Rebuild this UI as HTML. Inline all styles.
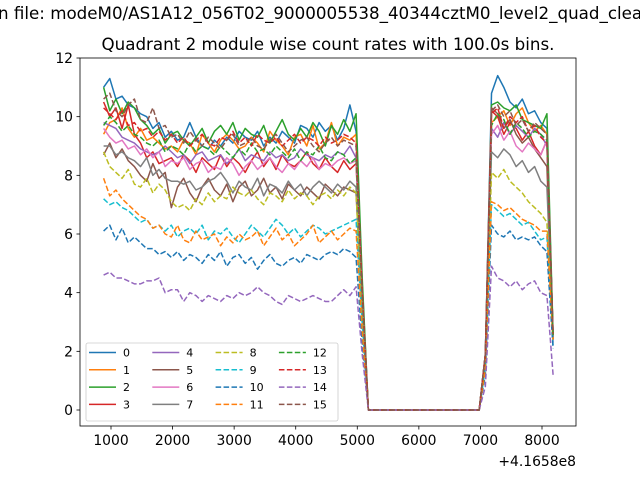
<!DOCTYPE html>
<html><head><meta charset="utf-8"><style>
body{margin:0;background:#fff;}
svg{display:block;font-family:"DejaVu Sans","Liberation Sans",sans-serif;}
</style></head><body>
<svg id="chart" width="640" height="480" viewBox="0 0 640 480">
<text x="-2" y="19" font-size="16.7">n file: modeM0/AS1A12_056T02_9000005538_40344cztM0_level2_quad_clean.evt</text>
<text x="328" y="50" font-size="16.7" text-anchor="middle">Quadrant 2 module wise count rates with 100.0s bins.</text>
<g id="plot"></g>
<text x="576" y="466" font-size="13.9" text-anchor="end">+4.1658e8</text>
</svg>
<script>
const xTicks=[1000,2000,3000,4000,5000,6000,7000,8000];
const yTicks=[0,2,4,6,8,10,12];
const times=[];for(let i=0;i<74;i++)times.push(880+100*i);
const gapZeros=[0,0,0,0,0,0,0,0,0,0,0,0,0,0,0,0,0,0,0];
const pre0=[11.0,11.3,10.6,10.7,10.4,10.3,10.1,10.0,9.6,9.8,9.3,9.5,9.2,9.3,9.8,9.3,9.0,8.9,9.2,9.0,9.3,9.1,9.5,9.3,9.2,9.5,9.0,9.3,9.1,9.5,9.3,9.1,9.7,9.6,9.3,9.8,9.5,9.7,9.2,9.6,10.4,9.5];
const pre1=[9.4,9.8,9.9,10.3,9.6,9.3,9.6,9.2,9.3,9.1,8.9,9.0,8.8,9.2,9.1,8.7,9.4,9.1,8.8,9.2,9.4,9.2,8.9,9.0,9.3,9.1,8.8,9.5,9.2,9.0,8.7,9.3,9.4,9.0,9.7,8.9,9.1,9.8,9.0,9.3,9.2,9.4];
const pre2=[11.0,10.2,10.6,10.1,10.5,10.3,9.9,9.7,9.4,9.6,9.1,9.4,9.5,9.2,9.0,9.3,9.6,9.1,9.5,9.7,9.4,9.8,9.2,9.6,9.4,9.3,9.7,9.1,9.5,9.9,9.4,9.2,9.6,9.3,9.8,9.5,9.0,9.7,9.4,9.9,9.5,10.1];
const pre3=[10.5,10.0,10.3,9.6,10.4,9.4,9.1,8.6,8.8,8.4,8.5,8.6,8.3,8.7,8.5,8.1,8.6,8.4,8.2,8.7,8.3,8.6,8.4,8.1,8.5,8.8,8.3,8.6,8.2,8.7,8.4,8.3,8.5,8.8,8.4,8.2,8.6,8.3,8.1,8.5,8.2,8.4];
const pre4=[9.8,9.7,9.6,9.3,9.2,9.1,8.9,8.8,8.7,8.8,9.0,8.8,8.6,8.7,8.4,8.7,8.8,8.5,8.6,8.7,8.4,8.6,8.9,8.5,8.7,8.6,8.5,8.8,8.6,8.7,8.5,8.6,8.9,8.7,8.6,8.5,8.7,8.6,8.8,8.7,9.0,8.6];
const pre5=[8.7,9.1,8.6,8.9,8.5,8.3,8.0,7.8,8.4,7.9,8.1,6.9,7.6,7.9,7.4,7.1,7.6,7.9,7.5,7.3,7.7,7.1,7.6,7.8,7.3,7.5,7.9,7.4,7.6,7.2,7.7,7.5,7.3,7.6,7.4,7.2,7.7,7.5,7.3,7.6,7.5,7.4];
const pre6=[9.6,9.3,9.1,9.2,8.9,9.0,8.7,8.9,8.6,8.8,8.3,8.5,8.4,8.6,8.2,8.4,8.5,8.1,8.3,8.2,8.6,8.4,8.0,8.3,8.5,8.2,8.4,8.6,8.3,8.1,8.4,8.2,8.5,8.3,8.6,8.2,8.4,8.3,8.5,8.6,8.4,8.5];
const pre7=[9.0,9.0,8.7,8.8,8.6,8.5,8.3,8.6,8.0,8.2,7.9,7.8,7.8,7.7,7.8,7.5,7.6,7.8,7.9,8.1,7.8,7.4,7.8,7.6,7.5,7.9,7.3,7.7,7.6,7.4,7.8,7.5,7.7,7.3,7.6,7.8,7.6,7.4,7.7,7.5,7.8,7.6];
const pre8=[8.8,8.3,8.1,7.9,8.2,7.7,7.6,7.9,7.4,7.7,7.5,7.1,6.9,7.0,6.8,7.2,7.0,7.4,7.1,7.3,7.2,7.6,7.4,7.3,7.5,7.2,7.0,7.4,7.3,7.1,7.5,7.2,7.4,7.3,7.0,7.3,7.4,7.2,7.5,7.3,7.6,7.4];
const pre9=[7.2,7.0,7.1,6.9,6.8,6.6,6.4,6.5,6.2,6.3,6.1,6.3,5.9,6.1,6.2,6.0,6.3,5.8,6.1,6.0,6.2,5.9,5.7,6.0,6.3,6.1,5.9,6.2,6.5,6.3,6.0,6.2,5.9,6.1,6.3,6.2,6.0,6.1,6.2,6.3,6.4,6.5];
const pre10=[6.1,6.3,5.8,6.2,5.7,5.9,5.7,5.5,5.5,5.3,5.4,5.2,5.4,5.1,5.3,5.2,5.0,5.3,5.1,5.4,4.9,5.2,5.3,5.0,5.2,4.8,5.1,5.3,5.0,4.9,5.1,5.2,5.0,5.3,5.2,5.1,5.3,5.4,5.3,5.5,5.4,5.2];
const pre11=[7.9,7.3,7.5,7.2,7.0,6.8,6.6,6.5,6.2,6.3,6.0,5.9,6.3,5.8,5.7,6.1,5.8,5.9,6.0,5.6,5.9,5.7,6.0,5.8,5.9,6.1,5.6,5.9,6.2,5.8,6.0,5.6,5.8,6.0,6.3,5.7,5.9,6.1,5.8,6.0,6.2,6.1];
const pre12=[9.7,10.0,9.8,9.5,9.7,9.4,9.3,9.1,9.0,9.2,8.8,9.0,8.9,8.7,9.1,8.8,9.0,8.9,8.7,9.0,8.8,8.6,8.9,8.7,9.1,8.8,8.9,8.7,9.0,8.8,8.6,8.9,8.5,8.8,8.7,9.0,8.6,8.5,8.8,8.7,8.4,8.6];
const pre13=[10.3,10.1,9.9,10.2,9.7,9.8,9.5,9.6,9.3,9.5,9.2,9.4,9.1,9.3,9.0,9.2,9.4,9.1,9.0,9.3,9.2,9.5,9.1,9.3,9.0,9.4,9.2,9.1,9.3,9.0,9.2,9.4,9.1,9.3,9.2,9.0,9.3,9.1,9.2,9.4,9.3,9.1];
const pre14=[4.6,4.7,4.5,4.5,4.4,4.3,4.3,4.4,4.4,4.5,4.0,4.1,4.1,3.7,4.0,3.9,3.7,3.9,3.8,3.7,3.9,3.8,4.0,3.9,4.0,4.2,4.0,3.9,3.7,3.6,3.9,3.8,3.7,3.8,3.9,3.8,3.7,3.7,3.9,4.1,3.9,4.2];
const pre15=[10.6,10.8,10.2,10.0,10.4,10.6,9.9,9.8,10.3,9.6,9.7,9.3,9.4,9.1,9.5,9.2,9.0,9.3,9.1,8.9,9.2,9.4,9.0,9.1,9.3,9.0,8.9,9.2,9.4,9.1,8.8,9.0,9.2,9.3,9.0,8.8,9.1,9.3,9.0,9.2,9.1,9.0];
const dropVals=[4.3,4.2,4.5,3.8,3.9,3.3,3.8,3.4,3.3,2.9,2.3,2.7,3.9,4.1,1.9,4.0];
const riseVals=[1.9,1.7,1.9,1.8,1.7,1.9,1.7,1.6,1.5,1.4,1.2,1.4,1.8,1.9,0.8,1.9];
const hi0=[10.8,11.4,11.0,10.5,10.3,10.6,10.1,10.2,9.8,9.6];
const hi1=[9.8,10.0,10.2,9.7,10.1,10.3,9.8,9.5,9.7,9.4];
const hi2=[10.4,10.5,10.3,10.2,10.4,9.9,9.8,9.7,9.6,10.1];
const hi3=[10.2,10.0,9.4,9.8,9.6,9.2,9.5,9.0,8.7,9.2];
const hi4=[9.6,9.3,9.8,9.4,9.7,9.5,9.3,9.6,9.4,9.0];
const hi5=[10.3,10.1,9.6,9.9,9.4,9.1,9.3,8.9,8.6,8.3];
const hi6=[9.4,9.7,9.2,9.5,9.0,8.8,9.1,8.9,8.7,9.2];
const hi7=[8.8,8.6,8.9,8.7,8.3,8.5,8.1,8.3,7.8,7.6];
const hi8=[8.1,7.9,8.2,7.8,7.6,7.4,7.1,6.9,6.7,6.4];
const hi9=[7.0,6.8,6.6,6.7,6.5,6.3,6.4,6.1,5.8,5.9];
const hi10=[6.3,6.0,5.9,6.1,5.8,5.9,5.8,5.9,5.6,5.4];
const hi11=[7.1,7.0,6.8,6.9,6.7,6.5,6.4,6.3,6.1,6.1];
const hi12=[9.7,10.1,9.9,9.4,9.8,9.6,9.3,9.5,9.4,9.2];
const hi13=[10.1,10.3,9.6,10.0,9.8,10.0,9.5,9.7,9.3,9.1];
const hi14=[4.9,4.5,4.4,4.2,4.4,4.1,4.3,4.4,4.0,3.9];
const hi15=[10.2,10.4,10.0,10.2,9.7,9.9,9.5,9.8,9.6,9.4];
const endVals=[2.5,2.4,2.6,2.5,2.4,2.5,2.3,2.4,2.3,2.2,2.1,2.4,2.5,2.6,1.2,2.6];
const labels=["0","1","2","3","4","5","6","7","8","9","10","11","12","13","14","15"];
const pres=[pre0,pre1,pre2,pre3,pre4,pre5,pre6,pre7,pre8,pre9,pre10,pre11,pre12,pre13,pre14,pre15];
const his=[hi0,hi1,hi2,hi3,hi4,hi5,hi6,hi7,hi8,hi9,hi10,hi11,hi12,hi13,hi14,hi15];
const colors=["#1f77b4","#ff7f0e","#2ca02c","#d62728","#9467bd","#8c564b","#e377c2","#7f7f7f","#bcbd22","#17becf"];

const NS="http://www.w3.org/2000/svg";
const L=80,R=576,T=58,B=426;
const xs=v=>111+(v-1000)*0.061571;
const ys=v=>410-v*29.333;
const g=document.getElementById('plot');
function mk(t,a,p){const e=document.createElementNS(NS,t);for(const k in a)e.setAttribute(k,a[k]);(p||g).appendChild(e);return e;}

for(let i=0;i<16;i++){
  const vals=pres[i].concat([dropVals[i]],gapZeros,[riseVals[i]],his[i],[endVals[i]]);
  const d=vals.map((v,j)=>(j?'L':'M')+xs(times[j]).toFixed(2)+' '+ys(v).toFixed(2)).join('');
  const p=mk('path',{d:d,fill:'none',stroke:colors[i%10],'stroke-width':1.5,'stroke-linejoin':'round'});
  if(i>=8)p.setAttribute('stroke-dasharray','5.55 2.4');
  
  
}
const frame=mk('rect',{x:L,y:T,width:R-L,height:B-T,fill:'none',stroke:'#000','stroke-width':0.8});


xTicks.forEach(v=>{
  const x=xs(v);
  const tl=mk('line',{x1:x,x2:x,y1:B,y2:B+3.5,stroke:'#000','stroke-width':0.8});
  
  
  const t=mk('text',{x:x,y:B+19,'font-size':13.9,'text-anchor':'middle'});
  t.textContent=v;
  
  
});
yTicks.forEach(v=>{
  const y=ys(v);
  const tl=mk('line',{x1:L-3.5,x2:L,y1:y,y2:y,stroke:'#000','stroke-width':0.8});
  
  
  const t=mk('text',{x:L-7,y:y+5,'font-size':13.9,'text-anchor':'end'});
  t.textContent=v;
  
  
});
const lg=mk('g',{});


const lb=mk('rect',{x:86,y:343,width:252,height:78,rx:2,fill:'#fff','fill-opacity':0.8,stroke:'#ccc','stroke-width':0.8},lg);


for(let i=0;i<16;i++){
  const c=Math.floor(i/4),r=i%4;
  const x0=89+c*63.3,y0=352.5+r*17.3;
  const e=mk('g',{},lg);
  
  
  const ln=mk('line',{x1:x0,x2:x0+27,y1:y0,y2:y0,stroke:colors[i%10],'stroke-width':1.5},e);
  if(i>=8)ln.setAttribute('stroke-dasharray','5.55 2.4');
  const t=mk('text',{x:x0+34,y:y0+4,'font-size':11},e);
  t.textContent=labels[i];
}
</script>
</body></html>
